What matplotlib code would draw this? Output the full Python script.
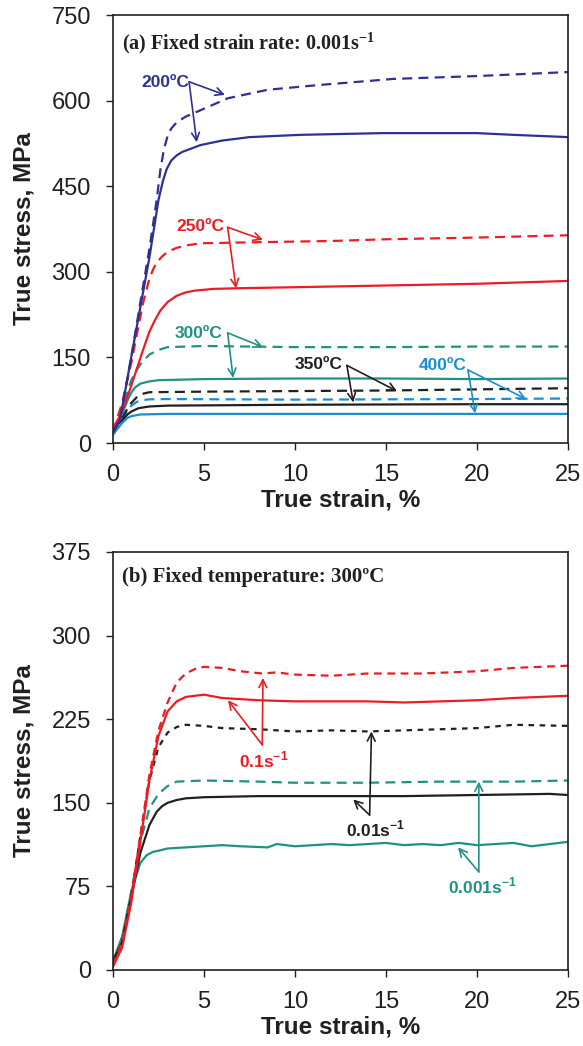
import matplotlib
matplotlib.use("Agg")
import matplotlib.pyplot as plt

# ---------------- Data: panel (a) fixed strain rate 0.001 s^-1 ----------------
a200_sol_x = [0, 0.38, 1.0, 1.6, 2.0, 2.5, 2.75, 2.95, 3.2, 3.5, 3.8, 4.3, 4.8, 6.0, 7.5, 10.3, 14.8, 18, 20, 22, 25]
a200_sol_y = [20, 40, 150, 255, 325, 426, 460, 480, 495, 504, 510, 516, 522, 530, 536, 540, 543, 543, 543, 540, 536]
a200_das_x = [0, 0.38, 1.0, 1.6, 2.0, 2.4, 2.6, 2.8, 3.0, 3.2, 3.5, 4.0, 4.8, 6.3, 8.5, 11.2, 15.4, 20, 25]
a200_das_y = [18, 40, 150, 265, 340, 426, 478, 515, 538, 551, 562, 572, 583, 604, 619, 627, 638, 643, 650]

a250_sol_x = [0, 0.5, 1.0, 1.65, 2.0, 2.3, 2.6, 3.0, 3.5, 4.0, 4.5, 5.5, 6.6, 10, 15, 20, 25]
a250_sol_y = [25, 55, 100, 163, 195, 215, 232, 247, 258, 264, 267, 270, 271, 273, 276, 279, 284]
a250_das_x = [0, 0.5, 1.0, 1.65, 2.0, 2.2, 2.4, 2.7, 3.0, 3.5, 4.0, 4.8, 8.2, 12, 15, 20, 25]
a250_das_y = [20, 70, 140, 245, 288, 304, 316, 327, 335, 342, 346, 350, 352, 354, 357, 360, 364]

a300_sol_x = [0, 0.5, 0.8, 1.0, 1.2, 1.5, 2.0, 2.5, 5, 10, 15, 20, 25]
a300_sol_y = [20, 50, 75, 88, 97, 104, 108, 110, 112, 113, 113, 112, 113]
a300_das_x = [0, 0.5, 1.0, 1.3, 1.6, 2.0, 2.5, 3.0, 5, 10, 15, 20, 25]
a300_das_y = [20, 60, 110, 128, 142, 155, 163, 168, 170, 168, 168, 169, 169]

a350_sol_x = [0, 0.5, 0.8, 1.0, 1.4, 2.0, 3, 10, 20, 25]
a350_sol_y = [25, 40, 50, 55, 61, 64, 65.5, 67, 68, 68]
a350_das_x = [0, 0.5, 1.0, 1.3, 1.6, 2.0, 5, 10, 15, 20, 25]
a350_das_y = [20, 45, 70, 80, 86, 89, 90, 91, 92, 94, 96]

a400_sol_x = [0, 0.5, 0.8, 1.0, 1.5, 3, 10, 20, 25]
a400_sol_y = [15, 35, 44, 47, 50, 51, 51, 51, 51]
a400_das_x = [0, 0.5, 1.0, 1.3, 1.6, 2.0, 3, 10, 20, 25]
a400_das_y = [15, 40, 65, 72, 75, 76.5, 77, 76, 77, 78]

# ---------------- Data: panel (b) fixed temperature 300 C ----------------
b01_das_x = [0, 0.5, 1.0, 1.5, 2.0, 2.5, 3.0, 3.5, 4.0, 4.5, 5.0, 6, 7, 8.2, 9, 10, 12, 14, 17, 20, 22, 25]
b01_das_y = [5, 25, 65, 120, 175, 215, 240, 258, 266, 270, 272, 271, 268, 266, 267, 265, 264, 266, 266, 268, 271, 273]
b01_sol_x = [0, 0.5, 1.0, 1.5, 2.0, 2.5, 3.0, 3.5, 4.0, 5.0, 6, 8, 10, 12, 14, 16, 18, 20, 22, 23.5, 25]
b01_sol_y = [3, 20, 60, 115, 170, 210, 232, 241, 245, 247, 244, 242, 241, 241, 241, 240, 241, 242, 244, 245, 246]

b001_das_x = [0, 0.5, 1.0, 1.5, 2.0, 2.5, 3.0, 3.5, 4, 5, 6, 8, 10, 12, 14, 16, 18, 20, 22, 25]
b001_das_y = [8, 25, 65, 120, 170, 200, 213, 218, 220, 219, 217, 216, 214, 215, 214, 215, 216, 217, 220, 219]
b001_sol_x = [0, 0.5, 1.0, 1.5, 2.0, 2.4, 2.7, 3, 3.5, 4, 5, 8, 12, 16, 20, 24, 25]
b001_sol_y = [8, 25, 65, 105, 130, 142, 147, 150, 152.5, 154, 155, 156, 156, 156, 157, 158, 157]

b0001_das_x = [0, 0.5, 1.0, 1.5, 2.0, 2.5, 3.0, 3.5, 5, 8, 10, 14, 18, 22, 25]
b0001_das_y = [8, 25, 70, 115, 145, 158, 165, 169, 170, 169, 168, 168, 169, 169, 170]
b0001_sol_x = [0, 0.5, 1.0, 1.5, 1.85, 2.2, 2.5, 3, 4, 5, 6, 7, 8.5, 9, 10, 11, 12, 13, 14, 15, 16, 17, 18, 19, 20, 21, 22, 23, 24, 25]
b0001_sol_y = [8, 30, 70, 96, 103, 106, 107, 109, 110, 111, 112, 111, 110, 113, 111, 112, 113, 112, 113, 114, 112, 113, 112, 114, 112, 113, 114, 111, 113, 115]

x_ticks = [0, 5, 10, 15, 20, 25]
ya_ticks = [0, 150, 300, 450, 600, 750]
yb_ticks = [0, 75, 150, 225, 300, 375]

NAVY = "#2e3192"
RED = "#ed1c24"
TEAL = "#1f9284"
BLACK = "#231f20"
LBLUE = "#1b8ed0"

plt.rcParams['font.family'] = ['Liberation Sans', 'DejaVu Sans']
plt.rcParams['mathtext.fontset'] = 'custom'
plt.rcParams['mathtext.bf'] = 'Liberation Serif:bold'
plt.rcParams['mathtext.sf'] = 'Liberation Sans:bold'
plt.rcParams['mathtext.rm'] = 'Liberation Sans'

fig = plt.figure(figsize=(5.83, 10.46), dpi=100)
W, H = 583, 1046
axa = fig.add_axes([113 / W, 1 - 443 / H, 455 / W, 428 / H])
axb = fig.add_axes([113 / W, 1 - 970 / H, 455 / W, 418 / H])

LW = 1.6
DASH = (4.5, 2.8)

def plot_pair(ax, xs, ys, xd, yd, color, dash=DASH):
    ax.plot(xs, ys, color=color, lw=LW, solid_joinstyle='round')
    ax.plot(xd, yd, color=color, lw=LW, dashes=dash)

plot_pair(axa, a400_sol_x, a400_sol_y, a400_das_x, a400_das_y, LBLUE)
plot_pair(axa, a350_sol_x, a350_sol_y, a350_das_x, a350_das_y, BLACK)
plot_pair(axa, a300_sol_x, a300_sol_y, a300_das_x, a300_das_y, TEAL)
plot_pair(axa, a250_sol_x, a250_sol_y, a250_das_x, a250_das_y, RED)
plot_pair(axa, a200_sol_x, a200_sol_y, a200_das_x, a200_das_y, NAVY)

plot_pair(axb, b0001_sol_x, b0001_sol_y, b0001_das_x, b0001_das_y, TEAL, dash=(4.5, 2.8))
plot_pair(axb, b001_sol_x, b001_sol_y, b001_das_x, b001_das_y, BLACK, dash=(2.5, 2.5))
plot_pair(axb, b01_sol_x, b01_sol_y, b01_das_x, b01_das_y, RED, dash=(3.5, 2.5))

for ax, yt in ((axa, ya_ticks), (axb, yb_ticks)):
    ax.set_xlim(0, 25)
    ax.set_ylim(yt[0], yt[-1])
    ax.set_xticks(x_ticks)
    ax.set_yticks(yt)
    ax.tick_params(direction='out', length=5, width=1.0, labelsize=17,
                   top=False, right=False, colors=BLACK)
    ax.tick_params(axis='y', pad=11)
    ax.tick_params(axis='x', pad=10)
    for s in ax.spines.values():
        s.set_linewidth(1.2)
        s.set_color(BLACK)
    ax.set_xlabel("True strain, %", fontsize=17.5, fontweight='bold', color=BLACK, labelpad=2)
    ax.set_ylabel("True stress, MPa", fontsize=17.5, fontweight='bold', color=BLACK, labelpad=11)

serif = ['Liberation Serif', 'DejaVu Serif']
axa.text(0.02, 0.965, r"(a) Fixed strain rate: 0.001s$^{\mathbf{-1}}$", transform=axa.transAxes,
         fontsize=14.5, fontweight='bold', family=serif, va='top', ha='left', color=BLACK)
axb.text(0.02, 0.965, "(b) Fixed temperature: 300ºC", transform=axb.transAxes,
         fontsize=15, fontweight='bold', family=serif, va='top', ha='left', color=BLACK)

def ann(ax, text, txy, origin, targets, color):
    ax.text(txy[0], txy[1], text, color=color, fontsize=12.5, fontweight='bold',
            ha='center', va='center')
    for t in targets:
        ax.annotate("", xy=t, xytext=origin,
                    arrowprops=dict(arrowstyle='->', color=color, lw=1.2,
                                    mutation_scale=14, shrinkA=0, shrinkB=0))

ann(axa, "200ºC", (2.86, 631), (4.18, 633), [(6.15, 610), (4.6, 527)], NAVY)
ann(axa, "250ºC", (4.78, 380), (6.3, 378), [(8.24, 356), (6.76, 271)], RED)
ann(axa, "300ºC", (4.7, 192), (6.3, 193), [(8.24, 168), (6.6, 114)], TEAL)
ann(axa, "350ºC", (11.3, 137), (12.85, 136), [(15.6, 91), (13.2, 71)], BLACK)
ann(axa, "400ºC", (18.1, 135), (19.5, 128), [(22.7, 77), (19.9, 52)], LBLUE)

ann(axb, r"0.1s$^{\mathsf{-1}}$", (8.3, 188), (8.2, 202), [(6.32, 242), (8.24, 262)], RED)
ann(axb, r"0.01s$^{\mathsf{-1}}$", (14.45, 126), (14.1, 139), [(13.2, 153), (14.2, 214)], BLACK)
ann(axb, r"0.001s$^{\mathsf{-1}}$", (20.3, 75), (20.1, 88), [(18.96, 110), (20.1, 169)], TEAL)

fig.savefig("out.png", dpi=100)
